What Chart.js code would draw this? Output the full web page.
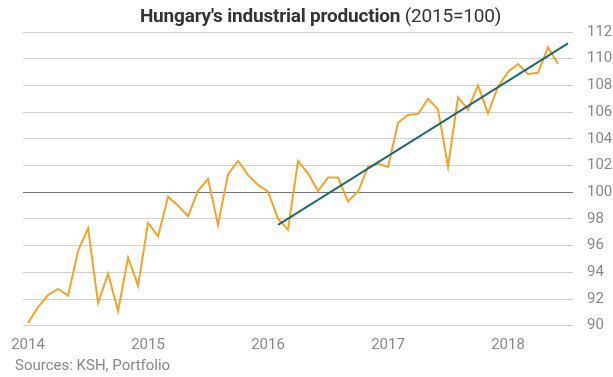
<!DOCTYPE html>
<html>
<head>
<meta charset="utf-8">
<script src="https://cdn.jsdelivr.net/npm/chart.js@4/dist/chart.umd.min.js"></script>
<style>
  html, body { margin: 0; padding: 0; background: #fff; }
  #wrap { position: relative; width: 613px; height: 377px; font-family: Roboto, sans-serif; }
  #title { position: absolute; top: 4px; left: 0; width: 641px; text-align: center; font-size: 19px; color: #333; white-space: nowrap; letter-spacing: -0.2px; }
  #title b { font-weight: 700; }
  #source { position: absolute; left: 15px; top: 356px; font-size: 15px; color: #888; }
</style>
</head>
<body>
<div id="wrap">
  <canvas id="chart" width="613" height="377"></canvas>
  <div id="title"><b>Hungary's industrial production</b> (2015=100)</div>
  <div id="source">Sources: KSH, Portfolio</div>
</div>
<script>
// monthly, Jan 2014 .. Jul 2018
const months = [];
for (let y = 2014; y <= 2018; y++) {
    for (let m = 1; m <= 12; m++) {
        if (y === 2018 && m > 7) break;
        months.push(y + "-" + String(m).padStart(2, "0"));
    }
}

// industrial production index (2015=100), Jan 2014 .. Jun 2018
const production = [
    90.2, 91.4, 92.3, 92.75, 92.25, 95.6, 97.3, 91.7, 93.9, 91.1, 95.1, 93.0,
    97.7, 96.7, 99.65, 99.0, 98.2, 100.1, 101.0, 97.55, 101.35, 102.35, 101.3, 100.55,
    100.05, 98.0, 97.2, 102.35, 101.4, 100.1, 101.1, 101.1, 99.3, 100.05, 101.9, 102.15,
    101.9, 105.2, 105.8, 105.85, 107.0, 106.2, 101.9, 107.1, 106.2, 108.0, 105.9, 107.9,
    109.0, 109.6, 108.85, 108.95, 110.85, 109.6
];

// trend line: Feb 2016 -> Jul 2018
const trendFrom = "2016-02";
const trendTo = "2018-07";
const trendValues = [97.55, 111.15];

const yTicks = [90, 92, 94, 96, 98, 100, 102, 104, 106, 108, 110, 112];

const trend = months.map(m => m === trendFrom ? trendValues[0] : (m === trendTo ? trendValues[1] : null));

const ctx = document.getElementById("chart").getContext("2d");
new Chart(ctx, {
    type: "line",
    data: {
        labels: months,
        datasets: [
            {
                data: production,
                borderColor: "#f2a42b",
                borderWidth: 2,
                pointRadius: 0,
                tension: 0,
                order: 2
            },
            {
                data: trend,
                borderColor: "#22686f",
                borderWidth: 2,
                pointRadius: 0,
                spanGaps: true,
                tension: 0,
                order: 1
            }
        ]
    },
    options: {
        responsive: false,
        animation: false,
        events: [],
        layout: { padding: { top: 32, left: 21, right: 0, bottom: 0 } },
        plugins: {
            legend: { display: false },
            tooltip: { enabled: false }
        },
        scales: {
            x: {
                type: "category",
                offset: true,
                grid: { display: false, drawTicks: false },
                border: { display: false },
                ticks: {
                    autoSkip: false,
                    maxRotation: 0,
                    padding: 11,
                    color: "#888",
                    font: { family: "Roboto", size: 15 },
                    callback: function (val, i) {
                        const lab = months[i];
                        return lab.endsWith("-01") ? lab.slice(0, 4) : "";
                    }
                },
                afterFit: s => { s.height = 51.3; }
            },
            y: {
                position: "right",
                min: 90,
                max: 112,
                afterBuildTicks: s => { s.ticks = yTicks.map(v => ({ value: v })); },
                grid: {
                    drawTicks: false,
                    lineWidth: 1,
                    color: c => c.tick && c.tick.value === 100 ? "#777" : "#d0d0d0"
                },
                border: { display: false },
                ticks: {
                    padding: 14,
                    color: "#888",
                    font: { family: "Roboto", size: 15 }
                },
                afterFit: s => { s.width = 40; }
            }
        }
    }
});
</script>
</body>
</html>
